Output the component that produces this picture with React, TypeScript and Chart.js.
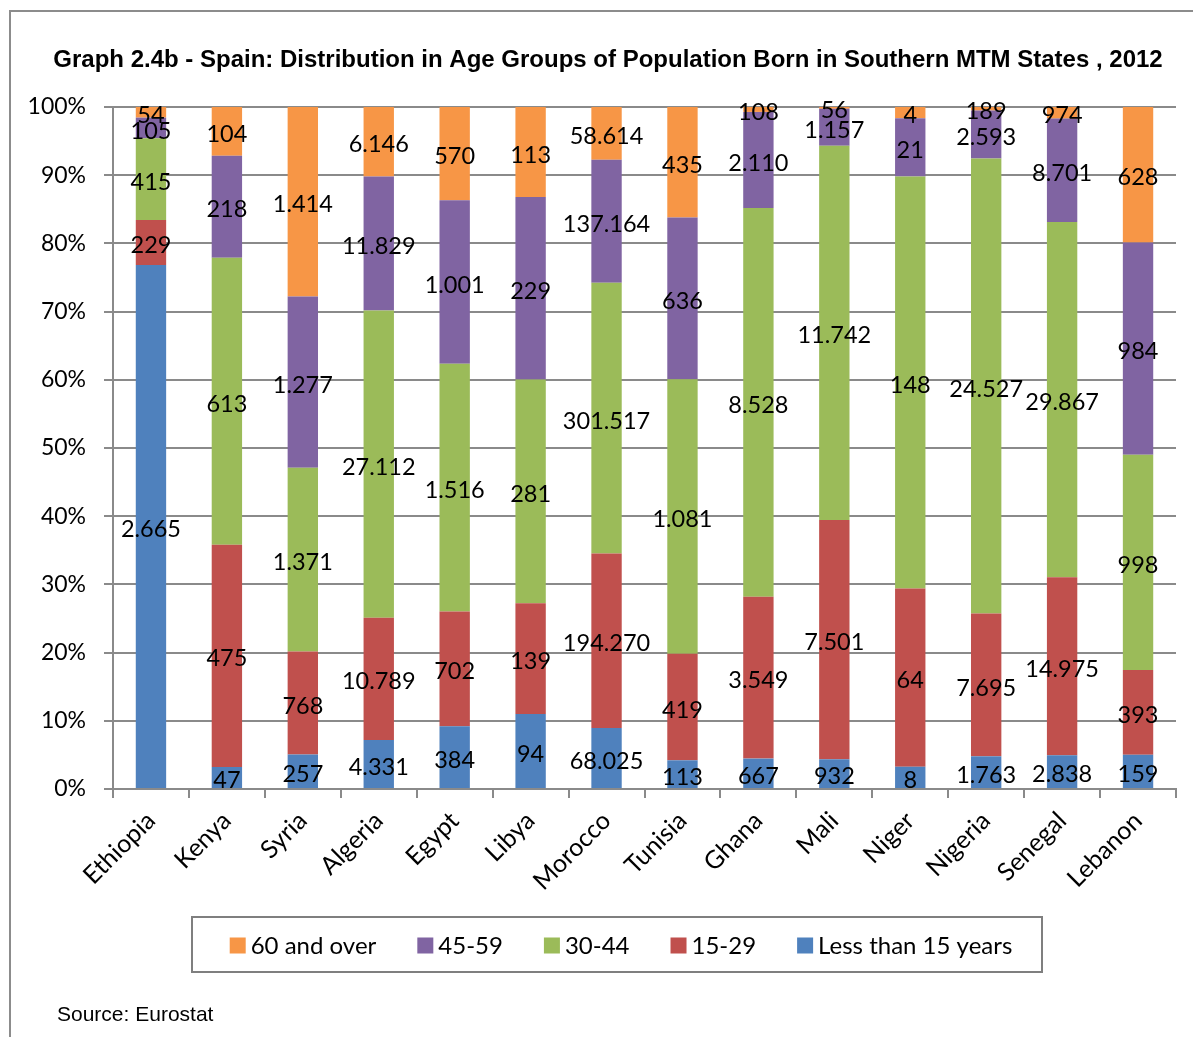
import React, { useEffect, useRef } from "react";
import { Chart, registerables } from "chart.js";

Chart.register(...registerables);

// Countries (x-axis categories)
const countries = [
  "Ethiopia", "Kenya", "Syria", "Algeria", "Egypt", "Libya", "Morocco",
  "Tunisia", "Ghana", "Mali", "Niger", "Nigeria", "Senegal", "Lebanon",
];

// Population counts per age group, one value per country
const lessThan15 = [2665, 47, 257, 4331, 384, 94, 68025, 113, 667, 932, 8, 1763, 2838, 159];
const age15to29 = [229, 475, 768, 10789, 702, 139, 194270, 419, 3549, 7501, 64, 7695, 14975, 393];
const age30to44 = [415, 613, 1371, 27112, 1516, 281, 301517, 1081, 8528, 11742, 148, 24527, 29867, 998];
const age45to59 = [105, 218, 1277, 11829, 1001, 229, 137164, 636, 2110, 1157, 21, 2593, 8701, 984];
const age60plus = [54, 104, 1414, 6146, 570, 113, 58614, 435, 108, 56, 4, 189, 974, 628];

// Y-axis ticks (percent)
const yTicks = [0, 10, 20, 30, 40, 50, 60, 70, 80, 90, 100];

const TITLE = "Graph 2.4b - Spain: Distribution in Age Groups of Population Born in Southern MTM States , 2012";
const SOURCE = "Source: Eurostat";
const LABEL_FONT = "Lato, 'Open Sans', sans-serif";

const seriesDefs = [
  { label: "Less than 15 years", values: lessThan15, color: "#4F81BD" },
  { label: "15-29", values: age15to29, color: "#C0504D" },
  { label: "30-44", values: age30to44, color: "#9BBB59" },
  { label: "45-59", values: age45to59, color: "#8064A2" },
  { label: "60 and over", values: age60plus, color: "#F79646" },
];

const totals = countries.map((_, i) =>
  seriesDefs.reduce((s, d) => s + d.values[i], 0)
);

const fmt = (n: number) => String(n).replace(/\B(?=(\d{3})+(?!\d))/g, ".");

const GRID = "#8a8a8a";

export default function App() {
  const ref = useRef<HTMLCanvasElement | null>(null);

  useEffect(() => {
    const canvas = ref.current;
    if (!canvas) return;

    // Value labels centred in every segment
    const valueLabels = {
      id: "valueLabels",
      afterDatasetsDraw(chart: any) {
        const ctx = chart.ctx;
        ctx.save();
        ctx.font = `23.5px ${LABEL_FONT}`;
        ctx.fillStyle = "#000";
        ctx.textAlign = "center";
        ctx.textBaseline = "middle";
        chart.data.datasets.forEach((ds: any, di: number) => {
          const meta = chart.getDatasetMeta(di);
          meta.data.forEach((bar: any, i: number) => {
            const raw = ds.raw[i];
            const yc = (bar.y + bar.base) / 2;
            ctx.fillText(fmt(raw), bar.x, yc + 3);
          });
        });
        ctx.restore();
      },
    };

    // Frame, title, boxed legend and source note
    const decorations = {
      id: "decorations",
      afterDraw(chart: any) {
        const ctx = chart.ctx;
        ctx.save();
        // outer frame (left and top edges)
        ctx.strokeStyle = "#8c8c8c";
        ctx.lineWidth = 2;
        ctx.beginPath();
        ctx.moveTo(10, 1037);
        ctx.lineTo(10, 11);
        ctx.lineTo(1193, 11);
        ctx.stroke();

        // title
        ctx.fillStyle = "#000";
        ctx.font = "bold 24px 'Liberation Sans', Arial, sans-serif";
        ctx.textAlign = "center";
        ctx.textBaseline = "middle";
        ctx.fillText(TITLE, 608, 60);

        // legend box
        const bx = 192, by = 917, bw = 850, bh = 55;
        ctx.fillStyle = "#fff";
        ctx.fillRect(bx, by, bw, bh);
        ctx.strokeStyle = "#7f7f7f";
        ctx.lineWidth = 2;
        ctx.strokeRect(bx, by, bw, bh);

        ctx.font = `24px ${LABEL_FONT}`;
        ctx.textAlign = "left";
        const items = chart.data.datasets.slice().reverse();
        const sq = 16, gapSq = 5, gapItem = 41;
        const widths = items.map((d: any) => sq + gapSq + ctx.measureText(d.label).width);
        const total = widths.reduce((a: number, b: number) => a + b, 0) + gapItem * (items.length - 1);
        let x = bx + bw / 2 - total / 2 + 4;
        const cy = by + bh / 2 + 1;
        items.forEach((d: any, k: number) => {
          ctx.fillStyle = d.backgroundColor;
          ctx.fillRect(x, cy - 8, sq, sq);
          ctx.fillStyle = "#000";
          ctx.fillText(d.label, x + sq + gapSq, cy + 1);
          x += widths[k] + gapItem;
        });

        // source note
        ctx.font = "21px 'Liberation Sans', Arial, sans-serif";
        ctx.fillText(SOURCE, 57, 1015);
        ctx.restore();
      },
    };

    const chart = new Chart(canvas, {
      type: "bar",
      data: {
        labels: countries,
        datasets: seriesDefs.map((d) => ({
          label: d.label,
          data: d.values.map((v, i) => (v / totals[i]) * 100),
          raw: d.values,
          backgroundColor: d.color,
          borderWidth: 0,
          categoryPercentage: 1,
          barPercentage: 0.4,
        })) as any,
      },
      options: {
        responsive: false,
        animation: false,
        devicePixelRatio: 1,
        layout: { padding: { top: 107, left: 23, right: 17, bottom: 128 } },
        plugins: {
          legend: { display: false },
          title: { display: false },
          tooltip: { enabled: false },
        },
        scales: {
          x: {
            stacked: true,
            grid: {
              display: true,
              drawOnChartArea: false,
              drawTicks: true,
              tickLength: 9,
              color: GRID,
              lineWidth: 2,
            },
            border: { display: true, color: GRID, width: 2 },
            ticks: {
              color: "#000",
              font: { family: LABEL_FONT, size: 25 },
              maxRotation: 45,
              minRotation: 45,
              autoSkip: false,
              padding: 8,
            },
            afterFit: (scale: any) => {
              scale.height = 120;
            },
          },
          y: {
            stacked: true,
            min: 0,
            max: 100,
            afterBuildTicks: (scale: any) => {
              scale.ticks = yTicks.map((v) => ({ value: v }));
            },
            grid: {
              color: GRID,
              lineWidth: 2,
              tickLength: 9,
            },
            border: { display: true, color: GRID, width: 2 },
            ticks: {
              color: "#000",
              font: { family: LABEL_FONT, size: 23 },
              padding: 18,
              callback: (v: any) => `${v}%`,
            },
            afterFit: (scale: any) => {
              scale.width = 90;
            },
          },
        },
      } as any,
      plugins: [valueLabels, decorations],
    });

    return () => chart.destroy();
  }, []);

  return (
    <div style={{ position: "fixed", left: 0, top: 0, width: 1193, height: 1037, background: "#fff" }}>
      <canvas ref={ref} width={1193} height={1037} style={{ display: "block", width: 1193, height: 1037 }} />
    </div>
  );
}
